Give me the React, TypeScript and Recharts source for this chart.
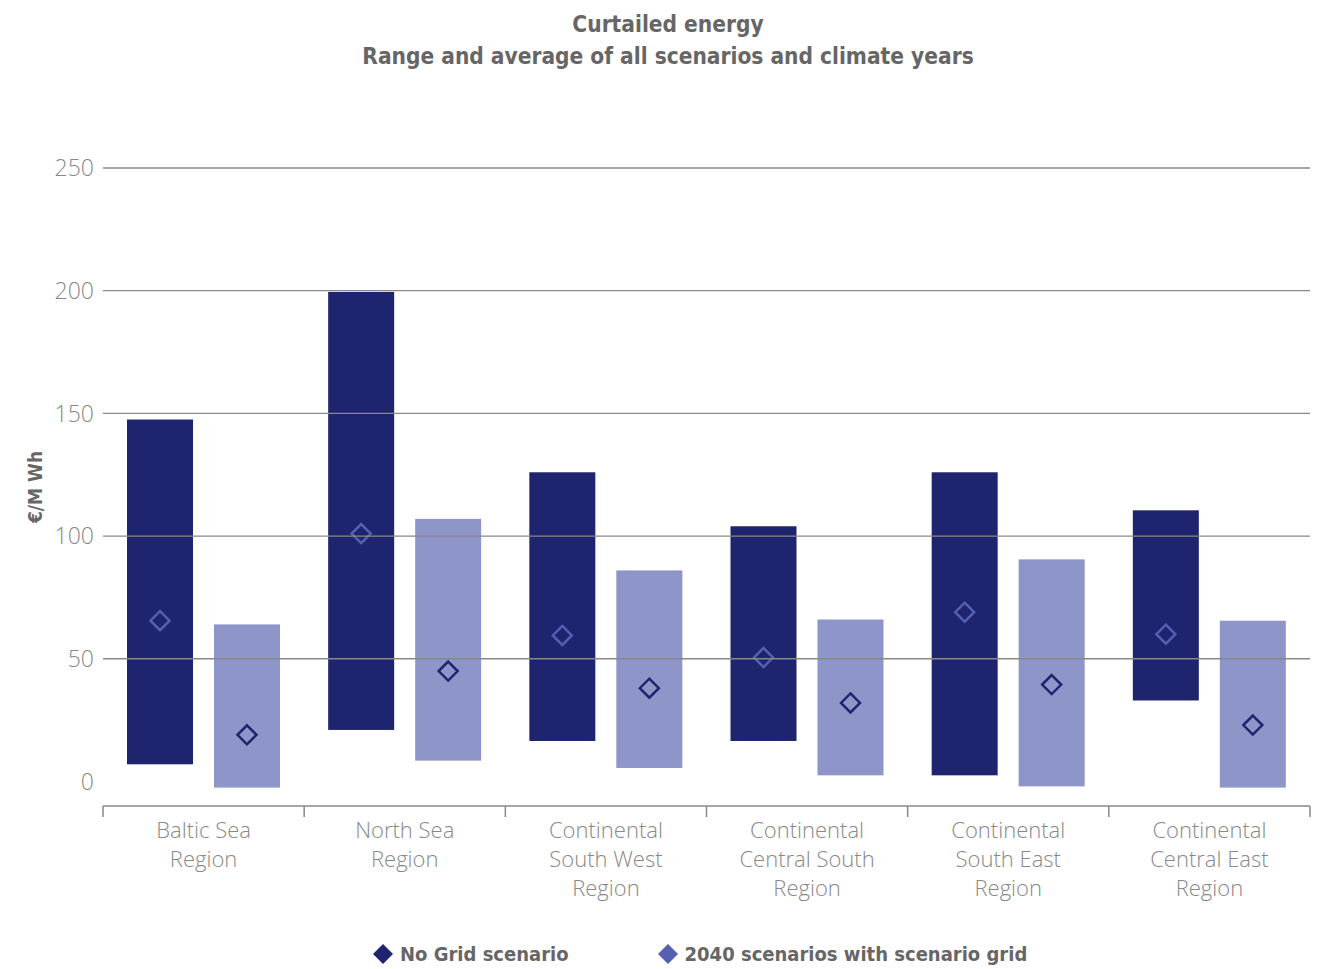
import React from "react";
import { BarChart, Bar, XAxis, YAxis, ReferenceLine, Legend } from "recharts";

// categories (line breaks as in the original axis labels)
const regions = [
  "Baltic Sea\nRegion",
  "North Sea\nRegion",
  "Continental\nSouth West\nRegion",
  "Continental\nCentral South\nRegion",
  "Continental\nSouth East\nRegion",
  "Continental\nCentral East\nRegion",
];

// No Grid scenario: range and average (€/MWh)
const noGridMin = [7, 21, 16.5, 16.5, 2.5, 33];
const noGridMax = [147.5, 199.5, 126, 104, 126, 110.5];
const noGridAvg = [65.5, 101, 59.5, 50.5, 69, 60];

// 2040 scenarios with scenario grid
const gridMin = [-2.5, 8.5, 5.5, 2.5, -2, -2.5];
const gridMax = [64, 107, 86, 66, 90.5, 65.5];
const gridAvg = [19, 45, 38, 32, 39.5, 23];

const yTicks = [0, 50, 100, 150, 200, 250];
const gridLines = [50, 100, 150, 200, 250];

const seriesNames = ["No Grid scenario", "2040 scenarios with scenario grid"];

const NAVY = "#1e246e";
const LILAC = "#8e95c8";
const MID = "#5560b0";
const GREY = "#888888";
const TEXT = "#666666";

const tickFont = "'Open Sans', 'Noto Sans', sans-serif";
const boldFont = "'DejaVu Sans Condensed', 'Open Sans', sans-serif";

const data = regions.map((region, i) => ({
  region,
  noGrid: [noGridMin[i], noGridMax[i]],
  noGridAvg: noGridAvg[i],
  grid: [gridMin[i], gridMax[i]],
  gridAvg: gridAvg[i],
}));

// range bar with a hollow diamond at the average
const RangeBar = (props: any) => {
  const { x, y, width, height, fill, payload, rangeKey, avgKey, marker } = props;
  const top = Math.min(y, y + height);
  const h = Math.abs(height);
  const range = payload[rangeKey];
  const lo = Math.min(range[0], range[1]);
  const hi = Math.max(range[0], range[1]);
  const avg = payload[avgKey];
  const cx = x + width / 2;
  const cy = top + (h * (hi - avg)) / (hi - lo);
  const r = 9.5;
  return (
    <g>
      <rect x={x} y={top} width={width} height={h} fill={fill} />
      <path
        d={`M${cx},${cy - r}L${cx + r},${cy}L${cx},${cy + r}L${cx - r},${cy}Z`}
        fill="none"
        stroke={marker}
        strokeWidth={2.5}
      />
    </g>
  );
};

const RegionTick = (props: any) => {
  const { x, y, payload, index } = props;
  const half = payload.offset || 100.6;
  const lines = String(payload.value).split("\n");
  return (
    <g>
      <line x1={x - half} x2={x - half} y1={y} y2={y + 11} stroke={GREY} strokeWidth={1.5} />
      {index === regions.length - 1 && (
        <line x1={x + half} x2={x + half} y1={y} y2={y + 11} stroke={GREY} strokeWidth={1.5} />
      )}
      <text x={x} y={y + 32} textAnchor="middle" fill={GREY} fontSize={22} fontFamily={tickFont} fontWeight={300}>
        {lines.map((l, i) => (
          <tspan key={i} x={x} dy={i === 0 ? 0 : 29}>
            {l}
          </tspan>
        ))}
      </text>
    </g>
  );
};

const AxisTitle = (props: any) => {
  const { viewBox } = props;
  const cx = 27;
  const cy = viewBox.y + viewBox.height / 2;
  return (
    <text
      x={cx}
      y={cy}
      transform={`rotate(-90, ${cx}, ${cy})`}
      textAnchor="middle"
      dy="0.36em"
      fill={TEXT}
      fontSize={19}
      fontWeight={700}
      fontFamily={boldFont}
    >
      €/M Wh
    </text>
  );
};

const legendColors = [NAVY, MID];

const LegendBox = () => (
  <div style={{ display: "flex", height: 30, alignItems: "center", paddingLeft: 365, gap: 89 }}>
    {seriesNames.map((name, i) => (
      <div key={name} style={{ display: "flex", alignItems: "center" }}>
        <svg width={20} height={20} style={{ marginRight: 7 }}>
          <path d="M10,0L20,10L10,20L0,10Z" fill={legendColors[i]} />
        </svg>
        <span style={{ color: TEXT, fontSize: 20, fontWeight: 700, fontFamily: boldFont }}>{name}</span>
      </div>
    ))}
  </div>
);

export default function App() {
  return (
    <div style={{ width: 1312, fontFamily: tickFont }}>
      <div
        style={{
          height: 80,
          textAlign: "center",
          color: TEXT,
          fontFamily: boldFont,
          fontWeight: 700,
          fontSize: 22.5,
          lineHeight: "32px",
          paddingLeft: 8,
        }}
      >
        <div>Curtailed energy</div>
        <div>Range and average of all scenarios and climate years</div>
      </div>
      <BarChart
        width={1312}
        height={881}
        data={data}
        margin={{ top: 80, right: 10, bottom: 0, left: 0 }}
        barSize={66}
        barGap={21}
      >
        {gridLines.map((v) => (
          <ReferenceLine key={v} y={v} stroke={GREY} strokeWidth={1.3} />
        ))}
        <XAxis
          dataKey="region"
          interval={0}
          height={133}
          tickLine={false}
          tickSize={0}
          tickMargin={0}
          axisLine={{ stroke: GREY, strokeWidth: 1.5 }}
          tick={<RegionTick />}
        />
        <YAxis
          width={95}
          domain={[-10, 250]}
          ticks={yTicks}
          allowDataOverflow
          axisLine={false}
          tickLine={false}
          tickMargin={3}
          tick={{ fill: GREY, fontSize: 23, fontFamily: tickFont, fontWeight: 300 }}
          label={<AxisTitle />}
        />
        <Bar
          dataKey="noGrid"
          name={seriesNames[0]}
          fill={NAVY}
          isAnimationActive={false}
          shape={(p: any) => <RangeBar {...p} rangeKey="noGrid" avgKey="noGridAvg" marker={MID} />}
        />
        <Bar
          dataKey="grid"
          name={seriesNames[1]}
          fill={LILAC}
          isAnimationActive={false}
          shape={(p: any) => <RangeBar {...p} rangeKey="grid" avgKey="gridAvg" marker={NAVY} />}
        />
        <Legend verticalAlign="bottom" content={() => <LegendBox />} />
      </BarChart>
    </div>
  );
}
